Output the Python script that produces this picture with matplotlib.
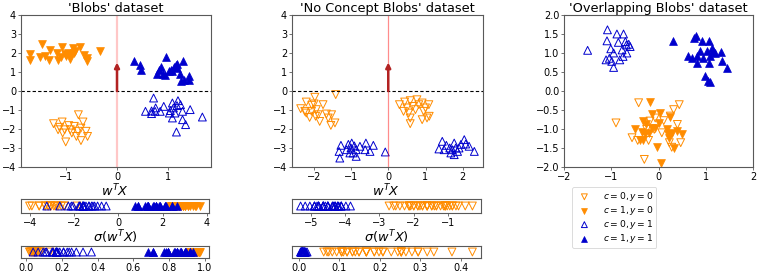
import numpy as np
import matplotlib
matplotlib.use('Agg')
import matplotlib.pyplot as plt

# ---------------- data ----------------
# 'Blobs' dataset
blobs_c0y0_x = [-0.76,-1.25,-1.08,-1.13,-1.03,-0.95,-0.89,-1.01,-0.80,-0.71,-0.67,-0.71,-0.61,-0.58,-0.77,-1.07,-0.92,-1.16,-0.84]
blobs_c0y0_y = [-1.25,-1.72,-1.63,-1.91,-2.04,-1.82,-2.21,-2.68,-2.39,-2.61,-1.63,-1.95,-2.12,-2.39,-2.12,-2.21,-2.04,-2.04,-1.86]
blobs_c1y0_x = [-1.72,-1.72,-1.48,-1.51,-1.41,-1.31,-1.33,-1.18,-1.16,-1.08,-1.10,-1.00,-0.93,-0.87,-0.85,-0.90,-0.82,-0.72,-0.65,-0.59,-0.60,-0.34,-0.97,-1.03]
blobs_c1y0_y = [1.95,1.61,2.47,1.77,1.82,2.16,1.65,2.00,1.61,2.32,1.77,1.82,1.68,2.26,2.00,1.93,2.09,2.33,1.89,1.74,1.56,2.09,2.00,1.95]
blobs_c0y1_x = [0.72,0.56,0.68,0.76,0.75,0.85,0.92,1.03,1.09,1.11,1.20,1.18,1.25,1.29,1.09,1.29,1.35,1.17,1.44,1.68,1.05,1.14,0.68]
blobs_c0y1_y = [-0.37,-1.07,-1.19,-0.89,-1.07,-1.07,-0.81,-1.16,-0.63,-0.89,-0.51,-0.77,-0.72,-1.07,-1.42,-1.51,-1.77,-2.16,-0.98,-1.37,-1.03,-1.16,-1.05]
blobs_c1y1_x = [0.34,0.45,0.47,0.97,0.78,0.82,0.86,0.94,1.06,1.12,1.16,1.19,1.29,1.24,1.25,1.31,1.41,1.41,1.19,1.03,0.90,1.09]
blobs_c1y1_y = [1.60,1.39,1.12,1.77,0.89,1.12,1.25,0.86,1.12,1.25,1.39,1.21,1.60,0.89,0.51,0.60,0.81,0.60,1.42,1.04,0.89,1.07]
blobs_w = [0.0, 1.5]

# 'No Concept Blobs' dataset
nocon_c0y0_x = [-2.20,-2.35,-2.20,-2.11,-1.97,-1.99,-1.93,-2.05,-1.75,-1.88,-1.84,-1.95,-1.66,-1.52,-1.61,-1.43,-1.54,-1.41,-2.06,-2.24,
                0.30,0.44,0.59,0.77,0.91,1.09,0.50,0.55,0.59,0.59,0.73,0.95,0.91,1.04,1.10,0.82,0.41,0.65,1.00]
nocon_c0y0_y = [-0.58,-0.93,-1.16,-1.39,-0.33,-0.68,-0.98,-0.75,-0.72,-1.25,-1.60,-1.33,-1.21,-1.25,-1.42,-1.68,-1.81,-0.19,-1.07,-1.07,
                -0.72,-0.58,-0.51,-0.46,-0.63,-0.72,-0.89,-1.16,-1.42,-1.72,-0.98,-1.07,-1.51,-1.42,-1.33,-0.72,-1.07,-0.81,-0.89]
nocon_c0y1_x = [-1.27,-1.32,-1.30,-1.12,-0.98,-1.00,-0.94,-0.86,-0.86,-0.76,-0.60,-0.62,-0.49,-0.40,-0.08,-1.07,-0.91,-1.03,
                1.36,1.45,1.56,1.65,1.68,1.77,1.81,1.77,1.95,2.04,2.08,2.17,2.31,1.86,1.50,1.72,1.90]
nocon_c0y1_y = [-2.86,-3.18,-3.53,-3.09,-2.74,-3.00,-3.26,-3.09,-3.44,-2.91,-2.74,-3.09,-3.18,-2.86,-3.21,-2.81,-2.89,-3.26,
                -3.05,-2.65,-2.86,-3.00,-3.26,-2.74,-3.00,-3.35,-2.81,-2.56,-2.79,-2.91,-3.18,-3.18,-3.09,-3.09,-3.00]
nocon_w = [0.0, 1.5]

# 'Overlapping Blobs' dataset
over_c0y0_x = [-0.42,0.44,0.32,0.25,-0.90,-0.18,-0.07,0.11,-0.56,-0.44,-0.21,-0.09,0.23,0.28,0.40,0.47,-0.30,0.07,-0.25]
over_c0y0_y = [-0.31,-0.36,-0.49,-0.66,-0.84,-0.79,-0.71,-0.78,-1.23,-1.30,-1.30,-1.01,-1.36,-1.48,-0.88,-1.36,-1.80,-1.10,-1.01]
over_c1y0_x = [-0.18,-0.14,0.04,-0.32,-0.26,0.00,-0.07,0.25,-0.49,-0.35,-0.28,-0.39,-0.32,-0.21,-0.14,0.18,0.21,0.28,0.39,0.49,0.32,-0.04,0.06,0.23]
over_c1y0_y = [-0.29,-0.60,-0.58,-0.79,-0.86,-0.84,-0.97,-0.69,-1.00,-1.07,-1.14,-1.28,-1.28,-1.10,-0.97,-1.01,-1.14,-1.10,-1.06,-1.14,-1.49,-1.48,-1.89,-1.23]
over_c0y1_x = [-1.50,-1.08,-1.09,-0.88,-0.74,-0.85,-0.70,-0.63,-0.60,-1.01,-0.95,-1.04,-1.11,-0.99,-0.95,-0.82,-0.75,-0.67,-0.77,-0.68]
over_c0y1_y = [1.07,1.61,1.32,1.50,1.50,1.28,1.30,1.23,1.17,1.11,1.00,0.86,0.82,0.78,0.62,0.82,0.91,1.00,1.08,1.21]
over_c1y1_x = [0.30,0.76,0.79,0.92,1.07,0.63,0.70,0.81,0.88,0.81,0.95,1.06,1.02,1.13,1.16,1.32,1.34,1.44,0.99,1.04,1.08,1.20,1.09]
over_c1y1_y = [1.32,1.39,1.46,1.32,1.32,0.93,0.88,0.91,1.04,0.73,0.86,0.73,1.06,1.13,1.04,1.02,0.78,0.60,0.40,0.27,0.23,1.00,0.91]

titles = ["'Blobs' dataset", "'No Concept Blobs' dataset", "'Overlapping Blobs' dataset"]
group_labels = [r'$c=0, y=0$', r'$c=1, y=0$', r'$c=0, y=1$', r'$c=1, y=1$']

# ---------------- style ----------------
ORANGE = '#FF8C00'
BLUE = '#0000CD'
ARROW = '#B22222'
SPINE = '0.35'
MS = 32
TICKFS = 7
TITLEFS = 9.3

styles = [
    dict(marker='v', facecolors='none', edgecolors=ORANGE, linewidths=0.7),
    dict(marker='v', facecolors=ORANGE, edgecolors=ORANGE, linewidths=0.5),
    dict(marker='^', facecolors='none', edgecolors=BLUE, linewidths=0.7),
    dict(marker='^', facecolors=BLUE, edgecolors=BLUE, linewidths=0.5),
]

W, H = 761, 276
fig = plt.figure(figsize=(W / 100, H / 100), dpi=100)


def ax_px(x0, y0, x1, y1):
    return fig.add_axes([x0 / W, 1 - y1 / H, (x1 - x0) / W, (y1 - y0) / H])


def style_ax(ax):
    for s in ax.spines.values():
        s.set_color(SPINE)
        s.set_linewidth(0.8)
    ax.tick_params(labelsize=TICKFS, length=2, width=0.6, pad=1.5, color=SPINE)


def sigmoid(z):
    return 1.0 / (1.0 + np.exp(-z))


panels = [
    dict(groups=[(blobs_c0y0_x, blobs_c0y0_y), (blobs_c1y0_x, blobs_c1y0_y),
                 (blobs_c0y1_x, blobs_c0y1_y), (blobs_c1y1_x, blobs_c1y1_y)],
         w=blobs_w, x0=21, x1=211, vline=dict(color='red', alpha=0.22, lw=1.6),
         xticks=[-1, 0, 1]),
    dict(groups=[(nocon_c0y0_x, nocon_c0y0_y), None,
                 (nocon_c0y1_x, nocon_c0y1_y), None],
         w=nocon_w, x0=292, x1=483, vline=dict(color='red', alpha=0.45, lw=0.9),
         xticks=[-2, -1, 0, 1, 2]),
    dict(groups=[(over_c0y0_x, over_c0y0_y), (over_c1y0_x, over_c1y0_y),
                 (over_c0y1_x, over_c0y1_y), (over_c1y1_x, over_c1y1_y)],
         w=None, x0=564, x1=753, vline=None,
         xticks=[-2, -1, 0, 1, 2]),
]

handles = []
for pi, p in enumerate(panels):
    ax = ax_px(p['x0'], 15, p['x1'], 167)
    style_ax(ax)
    for gi, g in enumerate(p['groups']):
        if g is None:
            continue
        h = ax.scatter(g[0], g[1], s=MS, label=group_labels[gi], **styles[gi])
        if pi == 2:
            handles.append(h)
    ax.set_title(titles[pi], fontsize=TITLEFS, pad=2)
    ax.set_xticks(p['xticks'])
    if p['w'] is not None:
        ax.set_ylim(-4, 4)
        ax.set_yticks(range(-4, 5))
        ax.axhline(0, color='black', ls='--', lw=0.8, dashes=(3, 2))
        ax.axvline(0, **p['vline'])
        ax.annotate('', xy=(p['w'][0], p['w'][1]), xytext=(0, 0),
                    arrowprops=dict(arrowstyle='-|>', color=ARROW, lw=1.8,
                                    mutation_scale=7, shrinkA=0, shrinkB=0))
        # projections
        wtx = []
        for g in p['groups']:
            if g is None:
                wtx.append(None)
            else:
                wtx.append(np.array(g[0]) * p['w'][0] + np.array(g[1]) * p['w'][1])
        sa1 = ax_px(p['x0'], 199, p['x1'] - 2, 213)
        sa2 = ax_px(p['x0'], 246, p['x1'] - 2, 258)
        for sa, fn, ttl in [(sa1, lambda z: z, r'$w^TX$'),
                            (sa2, sigmoid, r'$\sigma(w^TX)$')]:
            style_ax(sa)
            for gi, z in enumerate(wtx):
                if z is None:
                    continue
                v = fn(z)
                sa.scatter(v, np.zeros_like(v), s=MS, **styles[gi])
            sa.set_yticks([])
            sa.set_ylim(-1, 1)
            sa.set_title(ttl, fontsize=TITLEFS, pad=2)
    else:
        ax.set_xlim(-2, 2)
        ax.set_ylim(-2, 2)
        ax.set_yticks(np.arange(-2, 2.01, 0.5))

leg = fig.legend(handles=handles, loc='upper left',
                 bbox_to_anchor=(572 / W, 1 - 187 / H), fontsize=6.6,
                 frameon=True, borderpad=0.35, labelspacing=0.1,
                 handletextpad=1.0, markerscale=0.75, borderaxespad=0)
leg.get_frame().set_linewidth(0.6)

fig.savefig('out.png', dpi=100)
